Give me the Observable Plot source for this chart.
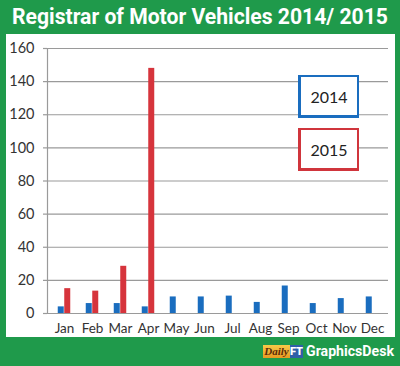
<!DOCTYPE html>
<html>
<head>
<meta charset="utf-8">
<script src="https://cdn.jsdelivr.net/npm/d3@7"></script>
<script src="https://cdn.jsdelivr.net/npm/@observablehq/plot@0.6"></script>
<style>
  html, body { margin: 0; padding: 0; }
  body { width: 400px; height: 366px; background: #1f9a4b; position: relative; overflow: hidden; font-family: Lato, "Liberation Sans", sans-serif; }
  #panel { position: absolute; left: 6px; top: 34px; width: 389px; height: 303px; background: #fff; }
  #title { position: absolute; left: 12px; top: 4px; color: #fff; font-family: Roboto, "Liberation Sans", sans-serif; font-weight: 700; font-size: 22px; line-height: 26px; white-space: nowrap; transform-origin: 0 0; }
  #chart { position: absolute; left: 0; top: 0; }
  .lg { position: absolute; left: 298px; width: 56px; height: 38px; background: #fff; box-sizing: content-box; font-family: Lato, sans-serif; font-size: 16px; color: #222; display: flex; align-items: center; justify-content: center; }
  #footer { position: absolute; left: 263px; top: 345px; height: 13px; display: flex; align-items: stretch; }
  #daily { background: linear-gradient(#f7c948, #e79a22); color: #5a2a08; font-family: "Liberation Serif", serif; font-style: italic; font-weight: 700; font-size: 11px; line-height: 13px; width: 27px; text-align: center; }
  #ft { background: #2f5fa8; color: #fff; font-family: Roboto, sans-serif; font-weight: 900; font-size: 11px; line-height: 13px; width: 13px; text-align: center; }
  #gd { color: #fff; font-family: Roboto, sans-serif; font-weight: 700; font-size: 15px; line-height: 13px; margin-left: 3px; white-space: nowrap; transform-origin: 0 50%; }
</style>
</head>
<body>
<div id="panel"></div>
<div id="title">Registrar of Motor Vehicles 2014/ 2015</div>
<div id="chart"></div>
<div id="lg2014" class="lg" style="top:75px;border:2px solid #1a6dbf;border-left-width:3px;border-bottom-width:3px;">2014</div>
<div id="lg2015" class="lg" style="top:128px;border:2px solid #d0353c;border-left-width:3px;border-bottom-width:3px;">2015</div>
<div id="footer"><div id="daily">Daily</div><div id="ft">FT</div><div id="gd">GraphicsDesk</div></div>
<script>
const months = ["Jan","Feb","Mar","Apr","May","Jun","Jul","Aug","Sep","Oct","Nov","Dec"];
const values2014 = [4, 6, 6, 4, 10, 10, 10.5, 6.7, 16.6, 6, 9, 10];
const values2015 = [15, 13.5, 28.5, 148, null, null, null, null, null, null, null, null];
const yTicks = [0, 20, 40, 60, 80, 100, 120, 140, 160];

const d2014 = months.map((m, i) => ({month: m, value: values2014[i]}));
const d2015 = months.map((m, i) => ({month: m, value: values2015[i]})).filter(d => d.value != null);

const blue = "#1a6dbf", red = "#d6343c";

const chart = Plot.plot({
  width: 400,
  height: 340,
  marginTop: 48,
  marginBottom: 27,
  marginLeft: 47,
  marginRight: 12,
  style: {background: "transparent", fontFamily: "Lato, 'Liberation Sans', sans-serif", color: "#333"},
  x: {domain: months, padding: 0, label: null},
  y: {domain: [0, 160], label: null},
  marks: [
    Plot.gridY(yTicks, {stroke: "#9a9a9a", strokeOpacity: 1, strokeWidth: 1.2}),
    Plot.frame({anchor: "left", stroke: "#9a9a9a", strokeWidth: 1.2}),
    Plot.axisY(yTicks, {tickSize: 4, tickPadding: 9, fontSize: 14.5, fill: "#333", stroke: "#9a9a9a", strokeWidth: 1.2}),
    Plot.axisX({tickSize: 0, tickPadding: 10, fontSize: 13.5, fill: "#333"}),
    Plot.barY(d2014, {x: "month", y: "value", fill: blue, insetLeft: 11, insetRight: 11, dx: -3.25}),
    Plot.barY(d2015, {x: "month", y: "value", fill: red, insetLeft: 11, insetRight: 11, dx: 3.25})
  ]
});
document.getElementById("chart").appendChild(chart);

function fit(id, w) {
  const el = document.getElementById(id);
  const cw = el.getBoundingClientRect().width;
  el.style.transform = `scaleX(${w / cw})`;
}
fit("title", 376);
fit("gd", 88);
</script>
</body>
</html>
